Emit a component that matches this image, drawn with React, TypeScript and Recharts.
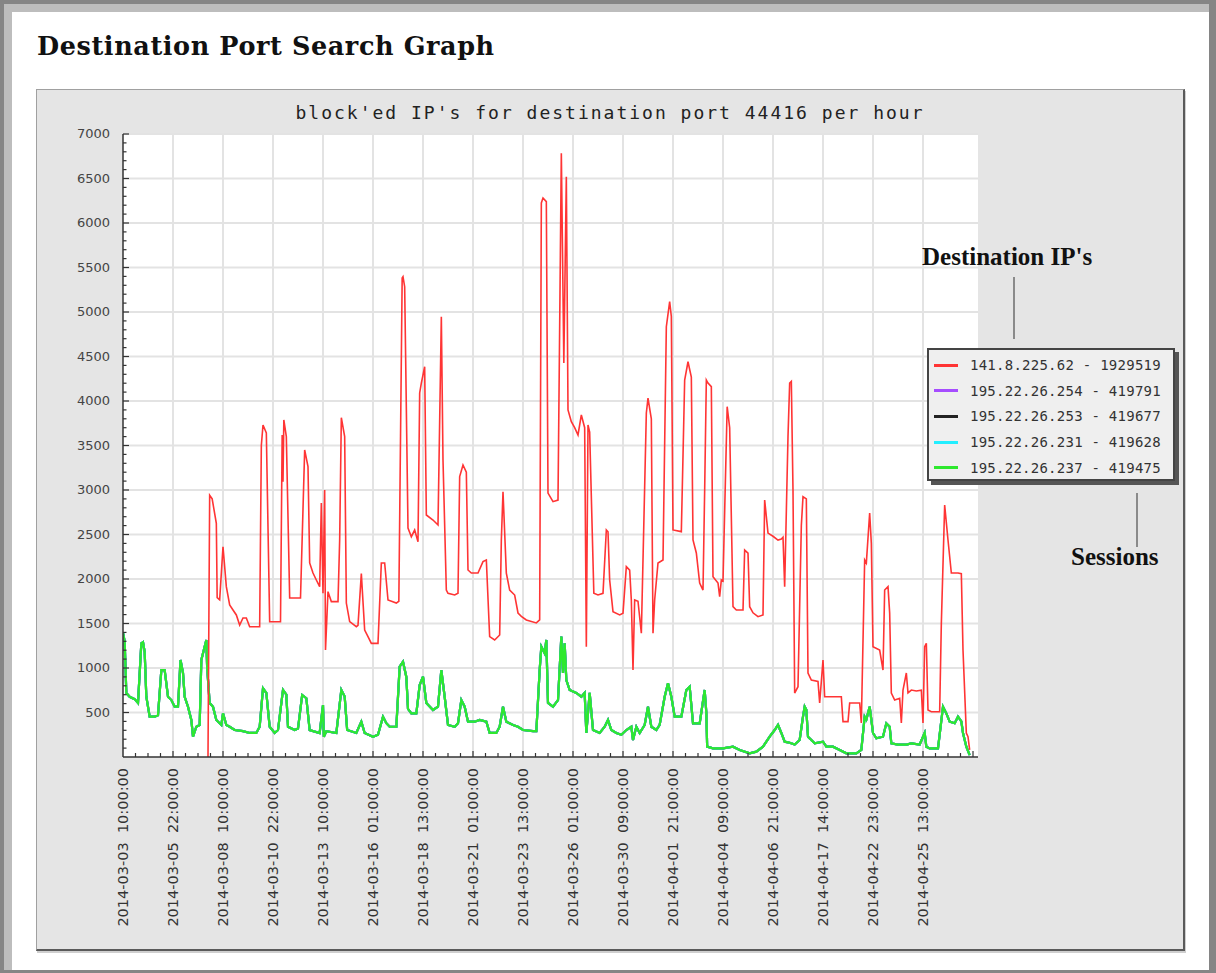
import { LineChart, Line, XAxis, YAxis, CartesianGrid } from "recharts";

// hour index (one point per hour of blocked traffic) -> count
const RED: [number, number][] = [
  [102, 0], [104, 2940], [107, 2900], [112, 2626], [113, 1790], [116, 1766], [120, 2363], [124, 1914],
  [128, 1708], [132, 1652], [136, 1596], [140, 1483], [144, 1562], [148, 1562], [152, 1464], [164, 1464],
  [166, 3500], [168, 3730], [172, 3640], [176, 1520], [182, 1520], [189, 1520], [191, 3618], [192, 3093],
  [193, 3787], [196, 3600], [200, 1787], [213, 1787], [218, 3450], [222, 3262], [224, 2180], [228, 2067],
  [232, 1989], [236, 1914], [238, 2854], [240, 1839], [242, 3000], [243, 1202], [246, 1858], [250, 1746],
  [258, 1746], [260, 2438], [262, 3813], [266, 3600], [268, 1730], [272, 1521], [280, 1464], [282, 1480],
  [286, 2060], [290, 1427], [294, 1352], [298, 1277], [306, 1277], [310, 2180], [314, 2180], [318, 1764],
  [328, 1730], [331, 1750], [335, 5382], [336, 5397], [338, 5284], [342, 2573], [346, 2475], [350, 2550],
  [354, 2419], [356, 4090], [358, 4202], [362, 4385], [364, 2719], [372, 2663], [378, 2607], [382, 4947],
  [384, 3337], [388, 1876], [390, 1839], [398, 1820], [402, 1839], [404, 3150], [408, 3281], [412, 3200],
  [414, 2101], [418, 2067], [426, 2067], [432, 2195], [436, 2213], [440, 1352], [446, 1315], [452, 1371],
  [454, 2438], [456, 2981], [460, 2067], [464, 1876], [470, 1820], [474, 1618], [478, 1580], [484, 1540],
  [496, 1506], [500, 1540], [502, 6225], [504, 6281], [508, 6240], [510, 2966], [516, 2869], [522, 2887],
  [526, 6783], [529, 4427], [532, 6520], [534, 3899], [538, 3767], [542, 3700], [546, 3618], [550, 3843],
  [554, 3700], [556, 1240], [558, 3730], [560, 3650], [565, 1839], [570, 1820], [576, 1839], [580, 2551],
  [582, 2530], [584, 1989], [588, 1633], [596, 1596], [600, 1615], [604, 2139], [608, 2100], [610, 1764],
  [612, 977], [614, 1764], [618, 1750], [622, 1390], [628, 3865], [630, 4033], [634, 3800], [636, 1390],
  [638, 1764], [642, 2180], [648, 2213], [652, 4835], [656, 5116], [658, 4950], [660, 2551], [670, 2532],
  [674, 4236], [678, 4441], [682, 4270], [684, 2438], [688, 2292], [692, 1955], [696, 1876], [698, 3000],
  [700, 4236], [702, 4202], [706, 4161], [708, 2026], [714, 1955], [716, 1801], [718, 1990], [720, 1977],
  [725, 3936], [728, 3700], [732, 1689], [736, 1652], [744, 1652], [746, 2325], [750, 2290], [752, 1689],
  [756, 1620], [762, 1577], [768, 1596], [770, 2888], [774, 2516], [780, 2480], [786, 2438], [790, 2450],
  [792, 2470], [794, 1914], [798, 3600], [800, 4202], [802, 4220], [804, 3000], [806, 719], [810, 790],
  [814, 2600], [816, 2925], [820, 2900], [822, 944], [826, 865], [834, 850], [836, 607], [840, 1090],
  [842, 677], [856, 677], [862, 677], [864, 397], [870, 397], [872, 607], [884, 607], [886, 382],
  [890, 2213], [892, 2180], [896, 2741], [898, 2400], [900, 1240], [908, 1202], [912, 977], [914, 1876],
  [918, 1914], [920, 1618], [922, 719], [926, 640], [932, 660], [934, 382], [936, 752], [940, 944],
  [942, 720], [946, 752], [952, 741], [958, 750], [960, 382], [962, 1240], [964, 1277], [966, 528],
  [970, 509], [980, 509], [982, 1500], [986, 2831], [990, 2438], [994, 2067], [1002, 2067], [1006, 2060],
  [1008, 1202], [1012, 270], [1014, 228], [1016, 79],
];

// the four 195.22.26.x series lie on top of each other at this scale
const SESSIONS: [number, number][] = [
  [0, 1400], [2, 1300], [4, 719], [8, 677], [14, 650], [18, 607], [22, 1277], [24, 1290], [26, 1180],
  [28, 677], [32, 453], [38, 453], [42, 470], [46, 977], [50, 977], [54, 677], [58, 640], [62, 565],
  [66, 565], [69, 1090], [72, 944], [74, 677], [78, 565], [82, 416], [84, 228], [88, 340], [92, 360],
  [94, 1090], [100, 1315], [101, 1000], [104, 607], [108, 565], [112, 416], [118, 360], [120, 490],
  [124, 360], [128, 340], [134, 303], [144, 290], [152, 270], [160, 270], [164, 340], [168, 772],
  [172, 719], [176, 340], [182, 270], [186, 303], [192, 753], [196, 700], [198, 340], [206, 303],
  [210, 320], [215, 697], [220, 660], [224, 303], [236, 270], [240, 584], [241, 228], [244, 290],
  [256, 270], [262, 753], [266, 680], [269, 303], [280, 270], [286, 397], [290, 270], [300, 228],
  [306, 250], [312, 453], [316, 380], [320, 340], [328, 340], [332, 1015], [336, 1071], [340, 900],
  [342, 540], [346, 490], [352, 490], [356, 809], [360, 903], [364, 607], [372, 528], [378, 565],
  [382, 977], [386, 677], [390, 360], [398, 340], [402, 380], [406, 640], [410, 565], [414, 397],
  [422, 397], [428, 416], [436, 397], [440, 270], [448, 270], [452, 340], [456, 565], [460, 397],
  [468, 360], [474, 340], [480, 303], [492, 290], [496, 290], [500, 977], [502, 1240], [506, 1165],
  [508, 1315], [510, 607], [516, 565], [522, 640], [526, 1352], [528, 944], [530, 1277], [532, 865],
  [536, 753], [544, 720], [550, 677], [554, 720], [556, 270], [560, 720], [564, 303], [572, 270],
  [578, 340], [582, 416], [586, 303], [592, 270], [598, 250], [604, 303], [610, 340], [612, 191],
  [616, 340], [620, 270], [626, 360], [630, 565], [634, 340], [640, 303], [644, 360], [650, 677],
  [654, 828], [658, 677], [662, 453], [670, 453], [676, 753], [680, 790], [684, 378], [692, 378],
  [698, 753], [700, 500], [701, 116], [708, 97], [720, 97], [732, 116], [740, 79], [752, 41],
  [760, 60], [768, 116], [776, 228], [782, 303], [786, 360], [790, 270], [794, 172], [800, 160],
  [806, 140], [812, 191], [816, 453], [818, 565], [820, 530], [822, 228], [830, 153], [840, 172],
  [844, 116], [852, 116], [860, 79], [868, 41], [880, 41], [886, 79], [890, 453], [892, 420],
  [896, 565], [900, 270], [904, 210], [912, 228], [916, 378], [920, 340], [922, 153], [930, 140],
  [940, 140], [946, 153], [956, 140], [962, 270], [964, 116], [968, 97], [978, 97], [984, 565],
  [988, 490], [992, 397], [998, 380], [1002, 453], [1006, 400], [1008, 270], [1012, 116], [1016, 22],
];

const X_LABELS = [
  "2014-03-03  10:00:00", "2014-03-05  22:00:00", "2014-03-08  10:00:00", "2014-03-10  22:00:00",
  "2014-03-13  10:00:00", "2014-03-16  01:00:00", "2014-03-18  13:00:00", "2014-03-21  01:00:00",
  "2014-03-23  13:00:00", "2014-03-26  01:00:00", "2014-03-30  09:00:00", "2014-04-01  21:00:00",
  "2014-04-04  09:00:00", "2014-04-06  21:00:00", "2014-04-17  14:00:00", "2014-04-22  23:00:00",
  "2014-04-25  13:00:00",
];
const X_TICKS = Array.from({ length: 69 }, (_, i) => i * 15);
const Y_TICKS = Array.from({ length: 71 }, (_, i) => i * 100);
const Y_GRID = [500, 1000, 1500, 2000, 2500, 3000, 3500, 4000, 4500, 5000, 5500, 6000, 6500, 7000];
const X_GRID = [60, 120, 180, 240, 300, 360, 420, 480, 540, 600, 660, 720, 780, 840, 900, 960];

const SERIES = [
  { key: "s254", name: "195.22.26.254 - 419791", color: "#a64dff", data: SESSIONS },
  { key: "s253", name: "195.22.26.253 - 419677", color: "#222222", data: SESSIONS },
  { key: "s231", name: "195.22.26.231 - 419628", color: "#22eeff", data: SESSIONS },
  { key: "s237", name: "195.22.26.237 - 419475", color: "#2ee82e", data: SESSIONS },
];
const RED_NAME = "141.8.225.62 - 1929519";
const RED_COLOR = "#ff3434";
const LEGEND = [{ name: RED_NAME, color: RED_COLOR }, ...SERIES];

const SANS = "DejaVu Sans, sans-serif";
const MONO = "DejaVu Sans Mono, monospace";

function YTick(props: any) {
  const { x, y, payload } = props;
  const v = payload.value;
  if (v === 0) return <g />;
  const major = v % 500 === 0;
  return (
    <g>
      <line x1={x} x2={x + (major ? 6 : 3.5)} y1={y} y2={y} stroke="#333" strokeWidth={1.2} />
      {major && (
        <text x={x - 13} y={y} dy={4} textAnchor="end" fontSize={13} fill="#444" fontFamily={SANS}>{v}</text>
      )}
    </g>
  );
}

function XTick(props: any) {
  const { x, y, payload } = props;
  const v = payload.value;
  const major = v % 60 === 0;
  const label = major ? X_LABELS[v / 60] : null;
  return (
    <g>
      {v > 0 && <line x1={x} x2={x} y1={y} y2={y - (major ? 6 : 4)} stroke="#333" strokeWidth={1.2} />}
      {label && (
        <text transform={`rotate(-90 ${x} ${y + 11})`} x={x} y={y + 11} dy={5} textAnchor="end"
          fontSize={14.5} fill="#333" fontFamily={SANS} style={{ whiteSpace: "pre" }}>{label}</text>
      )}
    </g>
  );
}

const pos = (l: number, t: number, w: number, h: number) =>
  ({ position: "absolute" as const, left: l, top: t, width: w, height: h });

export default function App() {
  return (
    <div style={{ position: "absolute", left: 0, top: 0, width: 1216, height: 973, background: "#858585", overflow: "hidden" }}>
      <div style={{ ...pos(4, 4, 1205, 966), background: "#bdbdbd" }} />
      <div style={{ ...pos(12, 12, 1197, 958), background: "#fff" }} />
      <div style={{ ...pos(36, 89, 1146, 859), background: "#e5e5e5", borderTop: "1px solid #a0a0a0",
        borderLeft: "1px solid #a0a0a0", borderRight: "2px solid #5a5a5a", borderBottom: "2px solid #5a5a5a",
        boxShadow: "1px 2px 0 #cfcfcf" }} />
      <LineChart width={1216} height={973} style={{ position: "absolute", left: 0, top: 0 }}
        margin={{ top: 134, right: 238, bottom: 186, left: 83 }}>
        <CartesianGrid fill="#ffffff" stroke="#e3e3e3" strokeWidth={2}
          horizontalValues={Y_GRID} verticalValues={X_GRID} />
        <XAxis type="number" dataKey="h" domain={[0, 1026]} ticks={X_TICKS} interval={0} height={30}
          allowDataOverflow tickSize={0} tickMargin={0} tick={XTick} axisLine={{ stroke: "#333", strokeWidth: 1.5 }} />
        <YAxis type="number" domain={[0, 7000]} ticks={Y_TICKS} interval={0} width={40}
          allowDataOverflow tickSize={0} tickMargin={0} tick={YTick} axisLine={{ stroke: "#333", strokeWidth: 1.5 }} />
        {SERIES.map(s => (
          <Line key={s.key} data={s.data.map(([h, v]) => ({ h, v }))} dataKey="v" name={s.name}
            stroke={s.color} strokeWidth={2.2} dot={false} type="linear" isAnimationActive={false} />
        ))}
        <Line data={RED.map(([h, v]) => ({ h, v }))} dataKey="v" name={RED_NAME} stroke={RED_COLOR}
          strokeWidth={1.6} dot={false} type="linear" isAnimationActive={false} />
      </LineChart>
      <svg width={1216} height={973} style={{ position: "absolute", left: 0, top: 0, pointerEvents: "none" }}>
        <text x={37} y={55} fontFamily="DejaVu Serif, serif" fontWeight="bold" fontSize={25.5} letterSpacing={0.6} fill="#111">
          Destination Port Search Graph
        </text>
        <text x={610} y={119} textAnchor="middle" fontFamily={MONO} fontSize={18} letterSpacing={2} fill="#222">
          block'ed IP's for destination port 44416 per hour
        </text>
        <text x={922} y={265} fontFamily="Liberation Serif, serif" fontWeight="bold" fontSize={25} fill="#111">
          Destination IP's
        </text>
        <line x1={1014} x2={1014} y1={277} y2={339} stroke="#8a8a8a" strokeWidth={2} />
        <line x1={1137} x2={1137} y1={493} y2={547} stroke="#8a8a8a" strokeWidth={2} />
        <text x={1071} y={565} fontFamily="Liberation Serif, serif" fontWeight="bold" fontSize={25} fill="#111">
          Sessions
        </text>
      </svg>
      <div style={{ ...pos(927, 348, 244, 129), background: "#efefef", border: "2px solid #444",
        boxShadow: "4px 4px 0 #555" }}>
        {LEGEND.map((e, i) => (
          <div key={i} style={{ position: "absolute", left: 5, top: 5 + i * 25.7, height: 20, display: "flex", alignItems: "center" }}>
            <div style={{ width: 24, height: 3, background: e.color, marginRight: 12 }} />
            <span style={{ fontFamily: MONO, fontSize: 14, letterSpacing: 0.25, color: "#333", whiteSpace: "pre" }}>{e.name}</span>
          </div>
        ))}
      </div>
    </div>
  );
}
